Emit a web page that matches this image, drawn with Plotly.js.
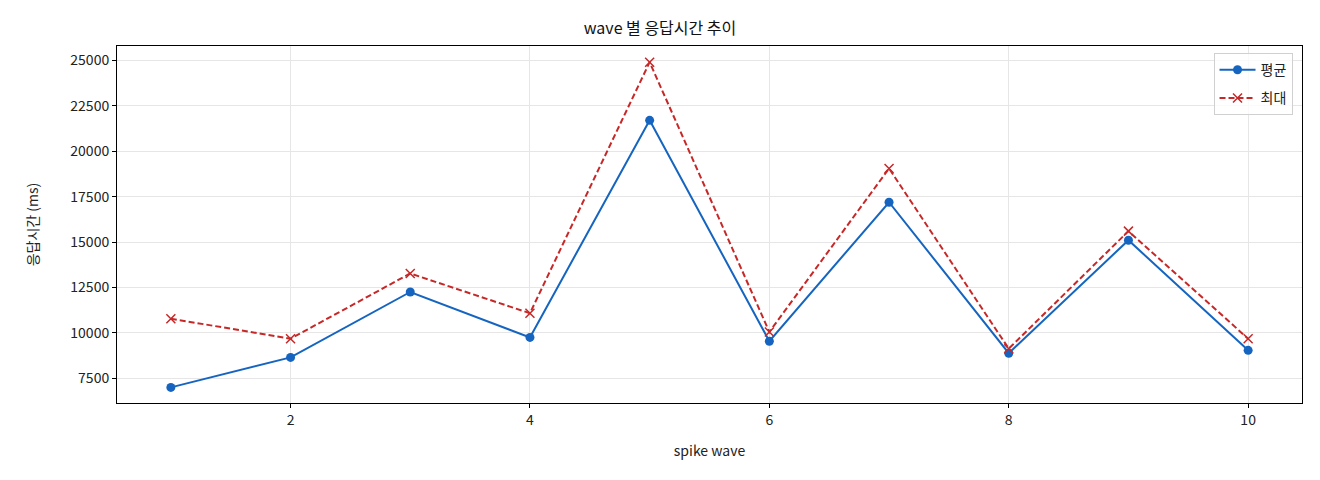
<!DOCTYPE html>
<html>
<head>
<meta charset="utf-8">
<script src="https://cdn.plot.ly/plotly-3.0.1.min.js"></script>
<style>
  body { margin: 0; background: #fff; }
  #chart { width: 1320px; height: 480px; }
</style>
</head>
<body>
<div id="chart"></div>
<script>
var waves = [1, 2, 3, 4, 5, 6, 7, 8, 9, 10];
var avgMs = [7000, 8650, 12250, 9750, 21700, 9540, 17190, 8880, 15100, 9040];
var maxMs = [10780, 9680, 13270, 11080, 24900, 10050, 19050, 9130, 15600, 9680];

var font = '"Noto Sans CJK KR", "Noto Sans", sans-serif';

var avgTrace = {
  name: '평균',
  legendgroup: 'avg',
  x: waves,
  y: avgMs,
  mode: 'lines+markers',
  type: 'scatter',
  line: { color: '#1565c0', width: 2 },
  marker: { color: '#1565c0', size: 9, symbol: 'circle' },
};

var maxTrace = {
  name: '최대',
  legendgroup: 'max',
  x: waves,
  y: maxMs,
  mode: 'lines+markers',
  type: 'scatter',
  line: { color: '#c62828', width: 2, dash: '6px,3px' },
  marker: { color: '#c62828', size: 9, symbol: 'x-thin', line: { color: '#c62828', width: 1.5 } },
};

var layout = {
  width: 1320,
  height: 480,
  margin: { l: 117, r: 18, t: 46, b: 77 },
  paper_bgcolor: '#ffffff',
  plot_bgcolor: '#ffffff',
  font: { family: font, size: 14, color: '#222' },
  title: {
    text: 'wave 별 응답시간 추이',
    font: { family: font, size: 16, color: '#111' },
    x: 0.5, xanchor: 'center', y: 0.94, yanchor: 'middle',
  },
  showlegend: true,
  legend: {
    x: 0.992, y: 0.98, xanchor: 'right', yanchor: 'top',
    bgcolor: 'rgba(255,255,255,0.8)',
    bordercolor: '#d0d0d0', borderwidth: 1,
    font: { family: font, size: 14, color: '#222' },
    tracegroupgap: 7,
    itemwidth: 36,
  },
  xaxis: {
    range: [0.55, 10.45],
    tickvals: [2, 4, 6, 8, 10],
    tickformat: 'd',
    showgrid: true, gridcolor: '#e6e6e6', gridwidth: 1,
    zeroline: false,
    showline: true, linecolor: '#000', linewidth: 1, mirror: true,
    ticks: 'outside', ticklen: 4, tickcolor: '#000',
    tickfont: { family: font, size: 14, color: '#222' },
    title: { text: 'spike wave', font: { family: font, size: 14, color: '#222' }, standoff: 18 },
  },
  yaxis: {
    range: [6140, 25790],
    tickvals: [7500, 10000, 12500, 15000, 17500, 20000, 22500, 25000],
    tickformat: 'd',
    showgrid: true, gridcolor: '#e6e6e6', gridwidth: 1,
    zeroline: false,
    showline: true, linecolor: '#000', linewidth: 1, mirror: true,
    ticks: 'outside', ticklen: 4, tickcolor: '#000',
    tickfont: { family: font, size: 14, color: '#222' },
    title: { text: '응답시간 (ms)', font: { family: font, size: 14, color: '#222' }, standoff: 28 },
  },
};

Plotly.newPlot('chart', [avgTrace, maxTrace], layout, { displayModeBar: false, staticPlot: true });
</script>
</body>
</html>
